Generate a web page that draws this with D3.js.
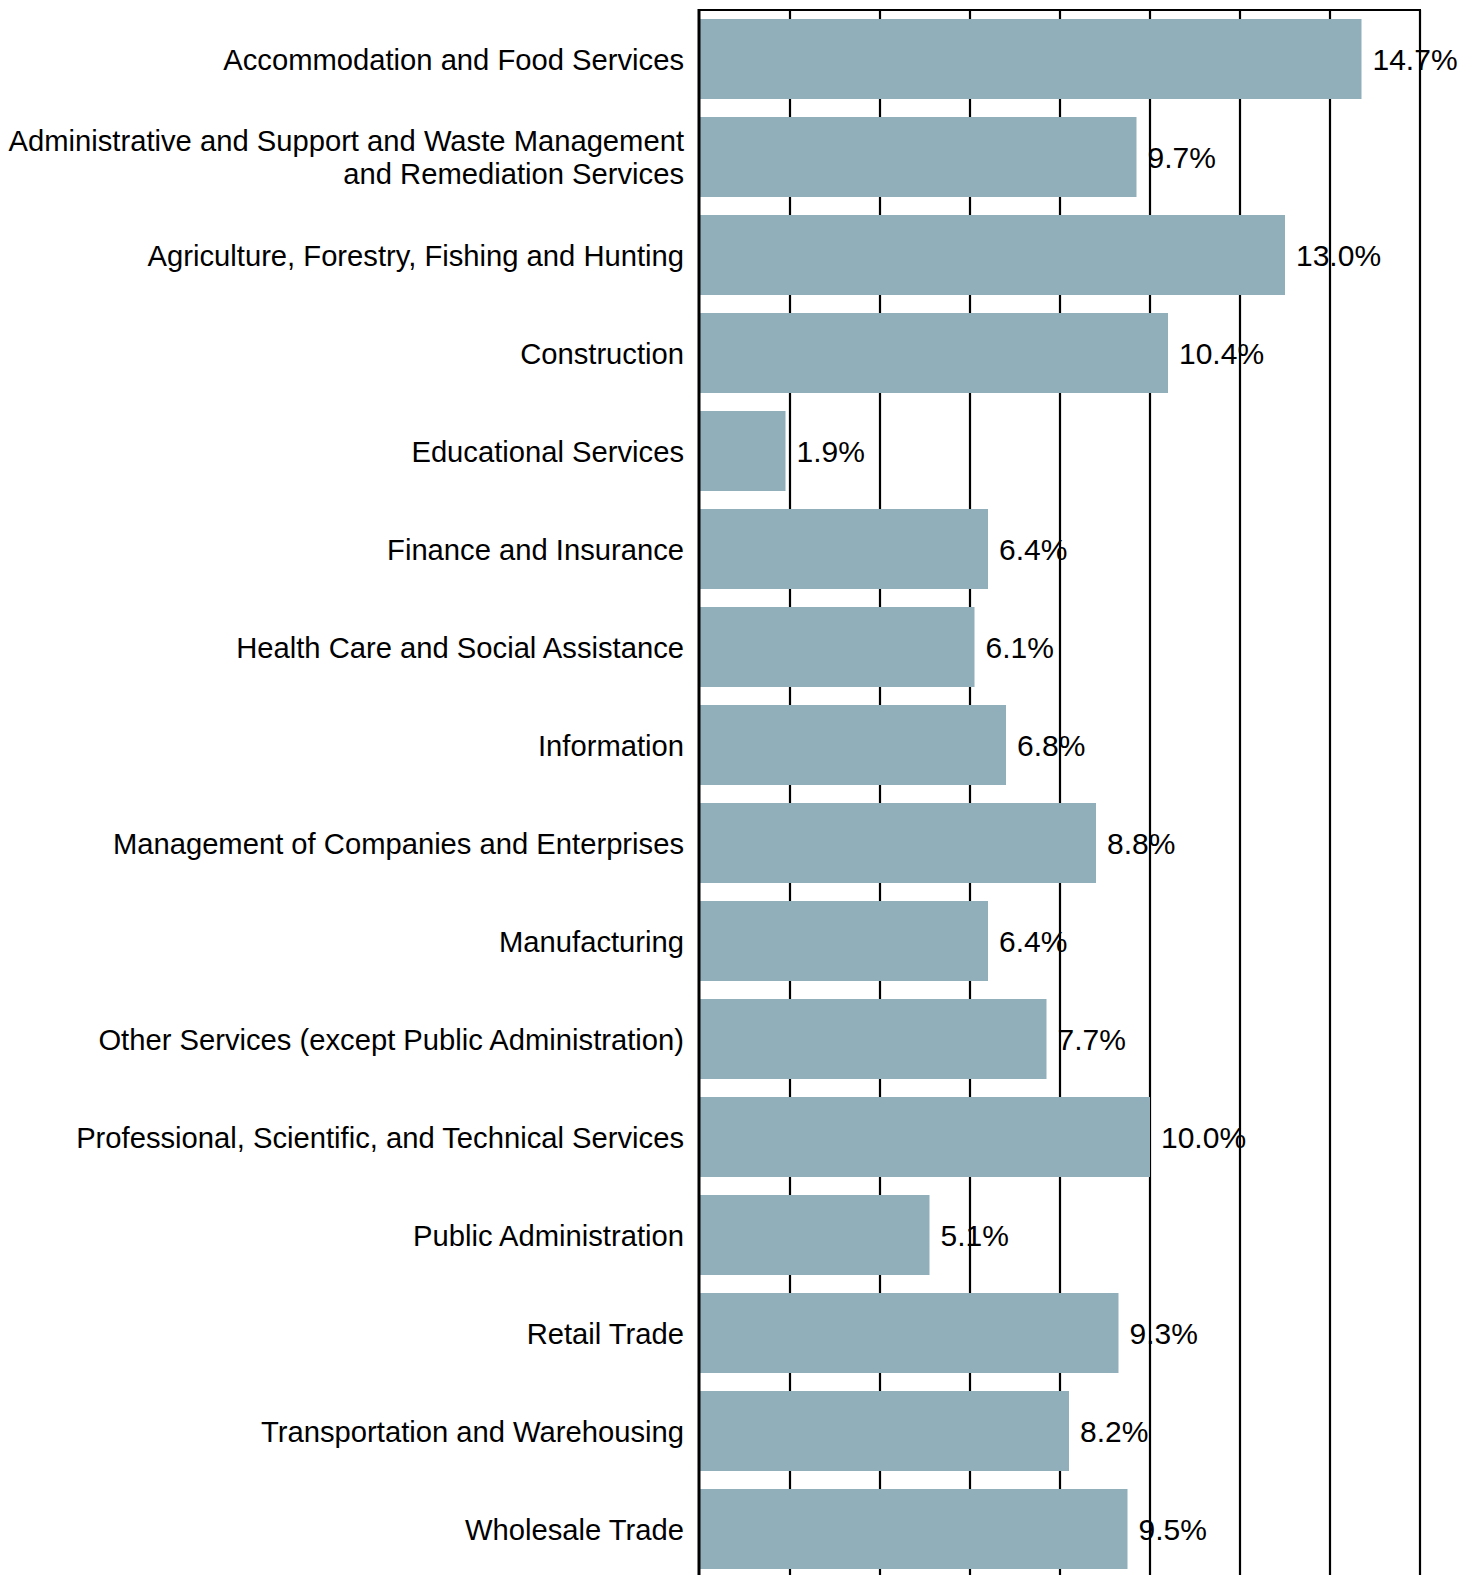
<!DOCTYPE html>
<meta charset="utf-8">
<style>
body { margin: 0; background: #fff; }
svg text { font-family: "Liberation Sans", Arial, sans-serif; fill: #000; }
</style>
<svg id="chart" width="1478" height="1575"></svg>
<script src="https://d3js.org/d3.v7.min.js"></script>
<script>

var categories = [
  "Accommodation and Food Services",
  "Administrative and Support and Waste Management|and Remediation Services",
  "Agriculture, Forestry, Fishing and Hunting",
  "Construction",
  "Educational Services",
  "Finance and Insurance",
  "Health Care and Social Assistance",
  "Information",
  "Management of Companies and Enterprises",
  "Manufacturing",
  "Other Services (except Public Administration)",
  "Professional, Scientific, and Technical Services",
  "Public Administration",
  "Retail Trade",
  "Transportation and Warehousing",
  "Wholesale Trade"
];
var values = [14.7, 9.7, 13.0, 10.4, 1.9, 6.4, 6.1, 6.8, 8.8, 6.4, 7.7, 10.0, 5.1, 9.3, 8.2, 9.5];
var gridTicks = [0, 2, 4, 6, 8, 10, 12, 14, 16];

var svg = d3.select("#chart"),
    plotLeft = 700, plotRight = 1420, plotTop = 10, plotBottom = 1578;

var x = d3.scaleLinear().domain([0, 16]).range([plotLeft, plotRight]);
var y = d3.scaleBand()
    .domain(categories)
    .range([plotTop, plotBottom])
    .paddingInner(18 / 98)
    .paddingOuter(9 / 98);

// gridlines
svg.append("g").selectAll("line")
    .data(gridTicks.slice(1))
  .enter().append("line")
    .attr("x1", function(d) { return x(d); })
    .attr("x2", function(d) { return x(d); })
    .attr("y1", plotTop)
    .attr("y2", 1575)
    .attr("stroke", "#000")
    .attr("stroke-width", 2.2);

svg.append("line")
    .attr("x1", plotLeft).attr("x2", x(16) + 1)
    .attr("y1", plotTop).attr("y2", plotTop)
    .attr("stroke", "#000").attr("stroke-width", 2.2);

// bars
svg.append("g").selectAll("rect")
    .data(values)
  .enter().append("rect")
    .attr("x", x(0))
    .attr("y", function(d, i) { return y(categories[i]); })
    .attr("width", function(d) { return x(d) - x(0); })
    .attr("height", y.bandwidth())
    .attr("fill", "#90afba");

// left axis line
svg.append("line")
    .attr("x1", plotLeft - 1).attr("x2", plotLeft - 1)
    .attr("y1", plotTop - 1).attr("y2", 1575)
    .attr("stroke", "#000").attr("stroke-width", 3);

// value labels
svg.append("g").selectAll("text")
    .data(values)
  .enter().append("text")
    .attr("x", function(d) { return x(d) + 11; })
    .attr("y", function(d, i) { return y(categories[i]) + y.bandwidth() / 2; })
    .attr("dy", "0.36em")
    .style("font-size", "30px")
    .text(function(d) { return d.toFixed(1) + "%"; });

// category labels
var lab = svg.append("g").selectAll("text")
    .data(categories)
  .enter().append("text")
    .attr("x", plotLeft - 16)
    .attr("y", function(d) { return y(d) + y.bandwidth() / 2; })
    .attr("text-anchor", "end")
    .style("font-size", "29.2px");

lab.each(function(d) {
  var lines = d.split("|");
  var t = d3.select(this);
  lines.forEach(function(s, k) {
    t.append("tspan")
      .attr("x", plotLeft - 16)
      .attr("dy", k === 0 ? (0.36 - (lines.length - 1) * 0.55) + "em" : "1.1em")
      .text(s);
  });
});

</script>
